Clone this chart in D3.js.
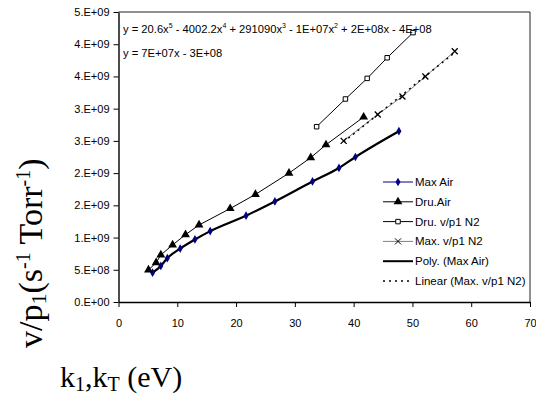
<!DOCTYPE html>
<html>
<head>
<meta charset="utf-8">
<script src="https://cdn.jsdelivr.net/npm/d3@7"></script>
<style>
body { margin: 0; background: #fff; }
text { font-family: "Liberation Sans", Arial, sans-serif; }
</style>
</head>
<body>
<script>
// data
var maxAirX = [5.8, 7.2, 8.3, 10.5, 13.0, 15.6, 21.7, 26.6, 33.0, 37.5, 40.3, 47.7];
var maxAirY = [4.55e8, 5.6e8, 6.8e8, 8.3e8, 9.7e8, 1.10e9, 1.34e9, 1.56e9, 1.87e9, 2.08e9, 2.25e9, 2.65e9];

var druAirX = [5.1, 6.4, 7.2, 9.2, 11.4, 13.7, 19.0, 23.3, 29.0, 32.7, 35.3, 41.7];
var druAirY = [4.97e8, 6.1e8, 7.3e8, 8.85e8, 1.045e9, 1.195e9, 1.45e9, 1.67e9, 2.0e9, 2.24e9, 2.44e9, 2.87e9];

var druN2X = [33.7, 38.6, 42.3, 45.7, 50.1];
var druN2Y = [2.72e9, 3.15e9, 3.47e9, 3.79e9, 4.18e9];

var maxN2X = [38.3, 44.1, 48.3, 52.2, 57.2];
var maxN2Y = [2.50e9, 2.91e9, 3.19e9, 3.50e9, 3.89e9];

var xTicks = [0, 10, 20, 30, 40, 50, 60, 70];
var yTicks = [0, 5e8, 1e9, 1.5e9, 2e9, 2.5e9, 3e9, 3.5e9, 4e9, 4.5e9];
var yTickLabels = ["0.E+00", "5.E+08", "1.E+09", "2.E+09", "2.E+09", "3.E+09", "3.E+09", "4.E+09", "4.E+09", "5.E+09"];

var legendNames = ["Max Air", "Dru.Air", "Dru. v/p1 N2", "Max. v/p1 N2", "Poly. (Max Air)", "Linear (Max. v/p1 N2)"];

var w = 536, h = 398;
var svg = d3.select("body").append("svg").attr("width", w).attr("height", h);

var x = d3.scaleLinear().domain([0, 70]).range([118.5, 530]);
var y = d3.scaleLinear().domain([0, 4.5e9]).range([302, 12]);

function zip(a, b) { return a.map(function(v, i) { return [v, b[i]]; }); }

// plot frame (top + right)
svg.append("path")
  .attr("d", "M" + x(0) + "," + y(4.5e9) + "H" + x(70) + "V" + y(0))
  .attr("fill", "none").attr("stroke", "#222").attr("stroke-width", 1);

// axes
var xAxis = svg.append("g").attr("transform", "translate(0," + y(0) + ")")
  .call(d3.axisBottom(x).tickValues(xTicks).tickSize(5).tickSizeOuter(0));
var yAxis = svg.append("g").attr("transform", "translate(" + x(0) + ",0)")
  .call(d3.axisLeft(y).tickValues(yTicks).tickSize(5).tickSizeOuter(0)
    .tickFormat(function(d, i) { return yTickLabels[i]; }));
[xAxis, yAxis].forEach(function(g) {
  g.select(".domain").attr("stroke", "#000").attr("stroke-width", 1.4);
  g.selectAll(".tick line").attr("stroke", "#000");
  g.selectAll(".tick text").attr("font-size", "11px").attr("fill", "#000")
    .style("font-family", "'Liberation Sans', Arial, sans-serif");
});
xAxis.selectAll(".tick text").attr("dy", "1.5em");
yAxis.selectAll(".tick text").attr("x", -9);

var line = d3.line().x(function(d) { return x(d[0]); }).y(function(d) { return y(d[1]); });

// series lines
svg.append("path").datum(zip(maxAirX, maxAirY)).attr("d", line)
  .attr("fill", "none").attr("stroke", "#000080").attr("stroke-width", 1);
svg.append("path").datum(zip(druAirX, druAirY)).attr("d", line)
  .attr("fill", "none").attr("stroke", "#000").attr("stroke-width", 1);
svg.append("path").datum(zip(druN2X, druN2Y)).attr("d", line)
  .attr("fill", "none").attr("stroke", "#000").attr("stroke-width", 1);
svg.append("path").datum(zip(maxN2X, maxN2Y)).attr("d", line)
  .attr("fill", "none").attr("stroke", "#808080").attr("stroke-width", 1);

// polynomial trend (smooth through Max Air)
svg.append("path").datum(zip(maxAirX, maxAirY))
  .attr("d", line.curve(d3.curveMonotoneX))
  .attr("fill", "none").attr("stroke", "#000").attr("stroke-width", 2.2);
line.curve(d3.curveLinear);

// linear trend for Max N2 (least squares)
var mx = d3.mean(maxN2X), my = d3.mean(maxN2Y);
var slope = d3.sum(maxN2X, function(v, i) { return (v - mx) * (maxN2Y[i] - my); }) /
            d3.sum(maxN2X, function(v) { return (v - mx) * (v - mx); });
var icpt = my - slope * mx;
var xr = d3.extent(maxN2X);
svg.append("path").datum(xr.map(function(v) { return [v, icpt + slope * v]; })).attr("d", line)
  .attr("fill", "none").attr("stroke", "#000").attr("stroke-width", 1.5).attr("stroke-dasharray", "2,4");

// markers
var diamond = d3.symbol().type(d3.symbolDiamond).size(22);
var tri = d3.symbol().type(d3.symbolTriangle).size(34);
var sq = d3.symbol().type(d3.symbolSquare).size(20);
var cross = "M-3,-3L3,3M-3,3L3,-3";

function at(d) { return "translate(" + x(d[0]) + "," + y(d[1]) + ")"; }
svg.selectAll("path.ma").data(zip(maxAirX, maxAirY)).enter().append("path").attr("class", "ma")
  .attr("d", diamond).attr("fill", "#000080").attr("transform", at);
svg.selectAll("path.da").data(zip(druAirX, druAirY)).enter().append("path").attr("class", "da")
  .attr("d", tri).attr("fill", "#000").attr("transform", at);
svg.selectAll("path.dn").data(zip(druN2X, druN2Y)).enter().append("path").attr("class", "dn")
  .attr("d", sq).attr("fill", "#fff").attr("stroke", "#000").attr("stroke-width", 1).attr("transform", at);
svg.selectAll("path.mn").data(zip(maxN2X, maxN2Y)).enter().append("path").attr("class", "mn")
  .attr("d", cross).attr("fill", "none").attr("stroke", "#000").attr("stroke-width", 1.3).attr("transform", at);

// trendline equations
var eq1 = svg.append("text").attr("x", 123).attr("y", 33).attr("font-size", "11.2px").attr("fill", "#000");
var parts = [["y = 20.6x", "5"], [" - 4002.2x", "4"], [" + 291090x", "3"], [" - 1E+07x", "2"], [" + 2E+08x - 4E+08", null]];
parts.forEach(function(p, i) {
  eq1.append("tspan").text(p[0]).attr("dy", i === 0 ? 0 : 5);
  if (p[1]) eq1.append("tspan").text(p[1]).attr("font-size", "7px").attr("dy", -5);
});
svg.append("text").attr("x", 123).attr("y", 57).attr("font-size", "11.2px").attr("fill", "#000")
  .text("y = 7E+07x - 3E+08");

// legend
var lg = svg.append("g");
var ly = function(i) { return 182 + i * 19.8; };
var lStroke = ["#000080", "#000", "#000", "#808080", "#000", "#000"];
var lWidth = [1, 1, 1, 1, 2, 1.5];
legendNames.forEach(function(n, i) {
  var yy = ly(i);
  var l = lg.append("line").attr("x1", 383).attr("x2", 413).attr("y1", yy).attr("y2", yy)
    .attr("stroke", lStroke[i]).attr("stroke-width", lWidth[i]);
  if (i === 5) l.attr("stroke-dasharray", "2,4");
  var tr = "translate(398," + yy + ")";
  if (i === 0) lg.append("path").attr("d", diamond).attr("fill", "#000080").attr("transform", tr);
  if (i === 1) lg.append("path").attr("d", tri).attr("fill", "#000").attr("transform", tr);
  if (i === 2) lg.append("path").attr("d", sq).attr("fill", "#fff").attr("stroke", "#000").attr("transform", tr);
  if (i === 3) lg.append("path").attr("d", cross).attr("fill", "none").attr("stroke", "#000").attr("transform", tr);
  lg.append("text").attr("x", 415).attr("y", yy + 4).attr("font-size", "11.5px").attr("fill", "#000").text(n);
});

// axis titles (serif)
var serif = "'Liberation Serif', 'Times New Roman', serif";
var yt = svg.append("text").attr("transform", "translate(42,348) rotate(-90)")
  .style("font-family", serif).attr("font-size", "34px").attr("fill", "#000");
yt.append("tspan").text("v/p");
yt.append("tspan").text("1").attr("font-size", "22px").attr("dy", 4);
yt.append("tspan").text("(s").attr("dy", -4);
yt.append("tspan").text("-1").attr("font-size", "20px").attr("dy", -12);
yt.append("tspan").text(" Torr").attr("dy", 12);
yt.append("tspan").text("-1").attr("font-size", "20px").attr("dy", -12);
yt.append("tspan").text(")").attr("dy", 12);

var xt = svg.append("text").attr("x", 60).attr("y", 387)
  .style("font-family", serif).attr("font-size", "30px").attr("fill", "#000");
xt.append("tspan").text("k");
xt.append("tspan").text("1").attr("font-size", "20px").attr("dy", 4);
xt.append("tspan").text(",k").attr("dy", -4);
xt.append("tspan").text("T").attr("font-size", "20px").attr("dy", 4);
xt.append("tspan").text(" (eV)").attr("dy", -4);
</script>
</body>
</html>
